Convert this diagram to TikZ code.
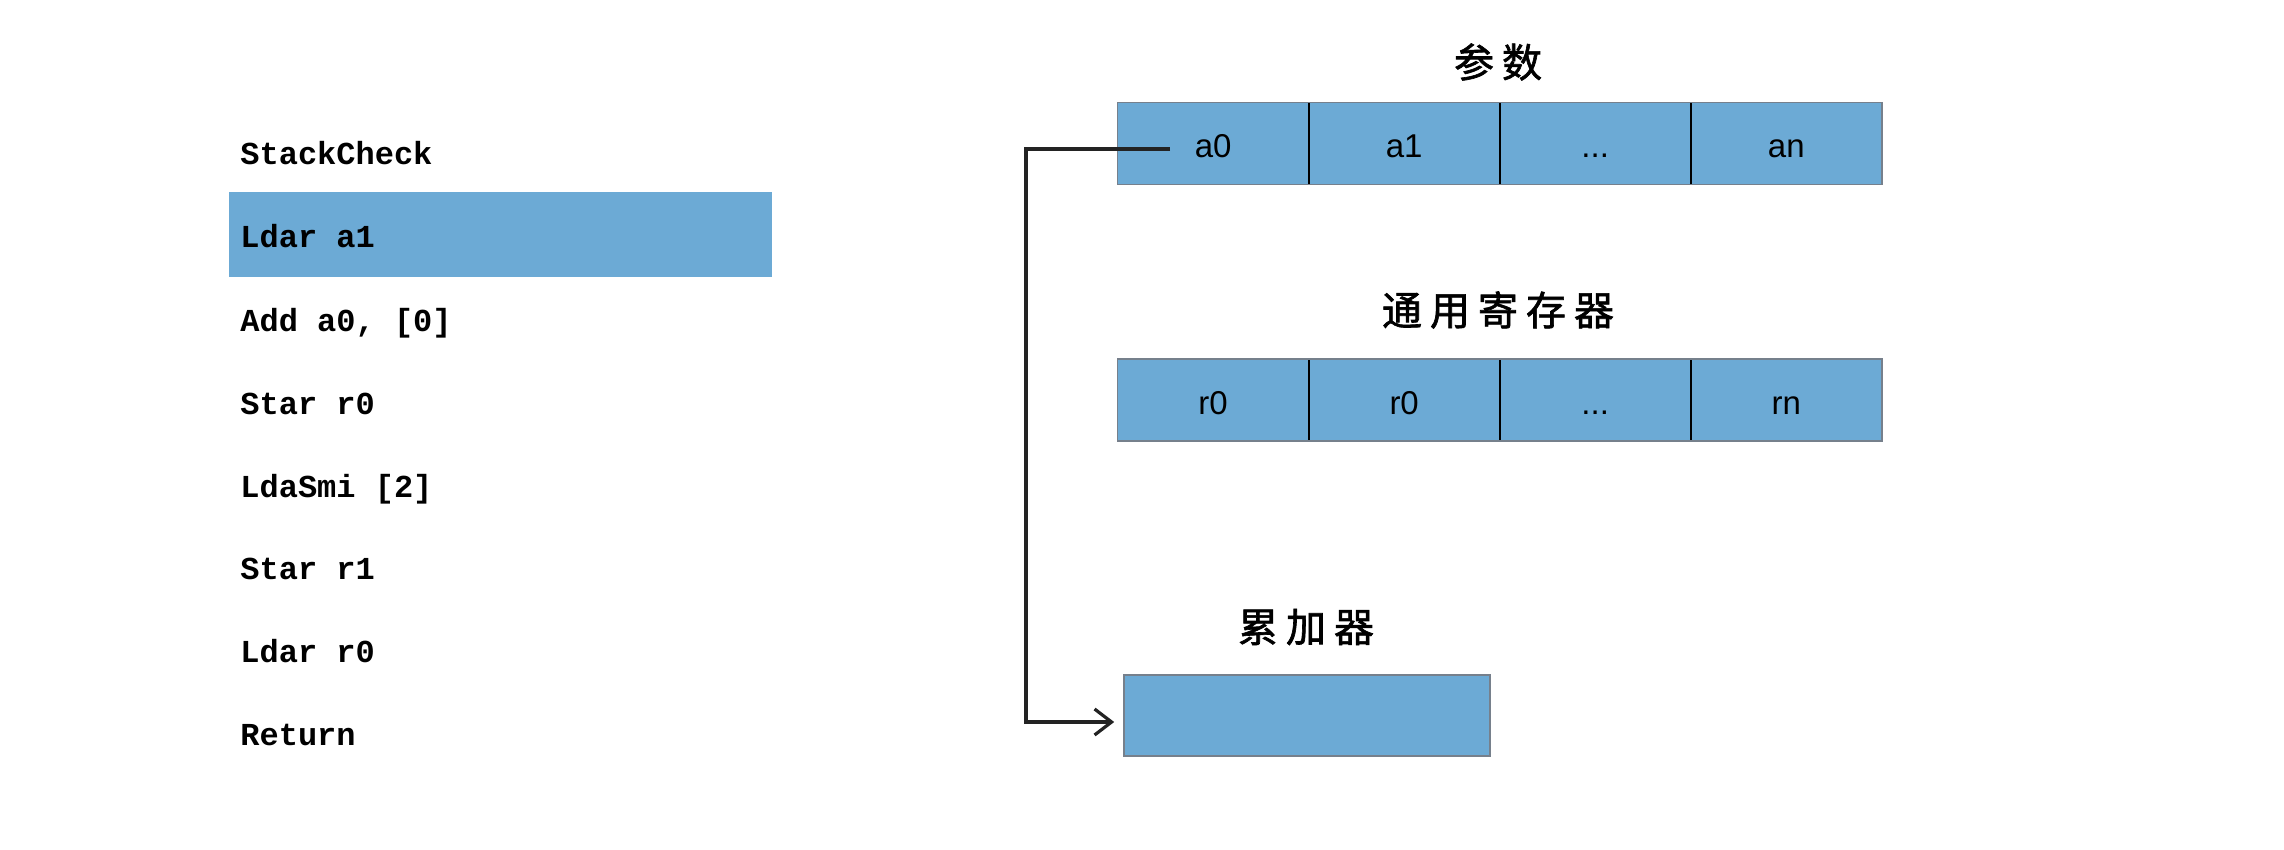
\documentclass[tikz,border=0pt]{standalone}
\usepackage{fontspec}
\setmainfont{Liberation Sans}
\setmonofont{Liberation Mono}
\newfontfamily\cjk{Noto Sans CJK SC}[FakeBold=1.6]
\usetikzlibrary{arrows.meta}
\definecolor{cellblue}{RGB}{108,170,213}
\definecolor{edgegray}{RGB}{118,128,140}
\definecolor{linkgray}{RGB}{35,35,35}
\begin{document}
\begin{tikzpicture}[x=0.5pt,y=-0.5pt,
  code/.style={anchor=base west,inner sep=0pt,font=\ttfamily\bfseries\fontsize{16}{18}\selectfont},
  cell/.style={fill=cellblue,minimum width=95.125pt,minimum height=40.5pt,inner sep=0pt,
    text height=14pt,text depth=0pt,font=\fontsize{16.5}{18}\selectfont},
  nextcell/.style={cell,anchor=west},
  divider/.style={draw=black,line width=1pt},
  outer/.style={draw=edgegray,line width=0.8pt},
  hlbox/.style={fill=cellblue,minimum width=271.5pt,minimum height=42.5pt,inner sep=0pt},
  title/.style={inner sep=0pt,font=\cjk\fontsize{20}{22}\selectfont},
  link/.style={draw=linkgray,line width=1.6pt,-{Straight Barb[length=8.5pt,width=13pt,line width=1.6pt]}}]
\useasboundingbox[fill=white] (0,0) rectangle (2284,850);

% highlighted instruction
\node[hlbox] (hl) at (500.5,234.5) {};

% bytecode listing
\node[code] (c1) at (240,165) {StackCheck};
\node[code] (c2) at (240,248) {Ldar a1};
\node[code] (c3) at (240,331) {Add a0, [0]};
\node[code] (c4) at (240,414) {Star r0};
\node[code] (c5) at (240,497) {LdaSmi [2]};
\node[code] (c6) at (240,579) {Star r1};
\node[code] (c7) at (240,662) {Ldar r0};
\node[code] (c8) at (240,745) {Return};

% titles
\node[title] (t1) at (1498,62) {参\hspace{4pt}数};
\node[title] (t2) at (1498,310) {通\hspace{4pt}用\hspace{4pt}寄\hspace{4pt}存\hspace{4pt}器};
\node[title] (t3) at (1306,627) {累\hspace{4pt}加\hspace{4pt}器};

% parameter cells
\node[cell] (a0) at (1213.1,143.5) {a0};
\node[nextcell] (a1) at (a0.east) {a1};
\node[nextcell] (a2) at (a1.east) {...};
\node[nextcell] (an) at (a2.east) {an};
\draw[divider] (a0.north east) -- (a0.south east);
\draw[divider] (a1.north east) -- (a1.south east);
\draw[divider] (a2.north east) -- (a2.south east);
\draw[outer] (a0.north west) rectangle (an.south east);

% general registers
\node[cell] (r0) at (1213.1,400) {r0};
\node[nextcell] (r1) at (r0.east) {r0};
\node[nextcell] (r2) at (r1.east) {...};
\node[nextcell] (rn) at (r2.east) {rn};
\draw[divider] (r0.north east) -- (r0.south east);
\draw[divider] (r1.north east) -- (r1.south east);
\draw[divider] (r2.north east) -- (r2.south east);
\draw[outer] (r0.north west) rectangle (rn.south east);

% accumulator
\node[cell,minimum width=183pt,draw=edgegray,line width=0.8pt] (acc) at (1307,715.5) {};

% connector
\coordinate (s) at (1170,149);
\coordinate (bend) at (1026,149);
\draw[link,shorten >=4.5pt] (s) -- (bend) |- ([yshift=-3.25pt]acc.west);
\end{tikzpicture}
\end{document}
